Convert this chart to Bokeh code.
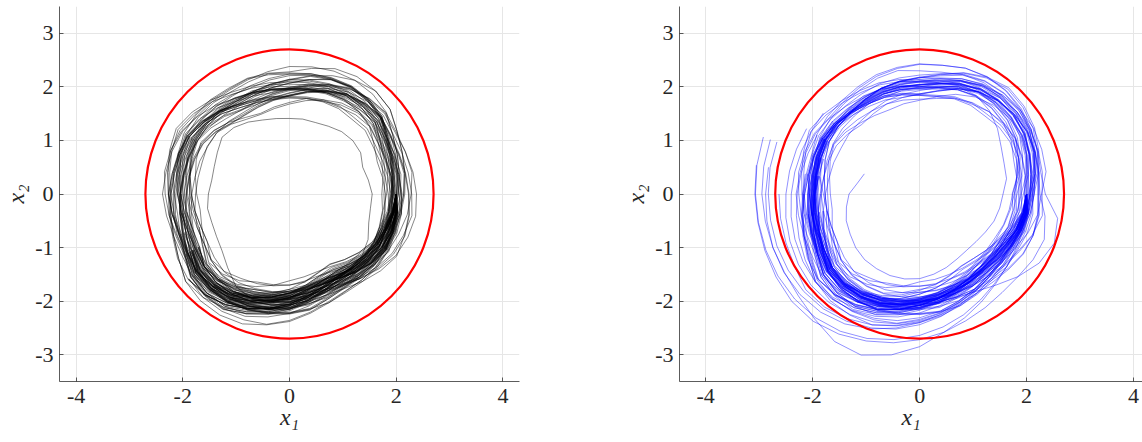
import numpy as np
from bokeh.plotting import figure
from bokeh.layouts import row
from bokeh.models import FixedTicker, Range1d
from bokeh.embed import file_html
from bokeh.resources import INLINE

# ---------------- data ----------------
# Each sample path is stored as radii (hundredths of a unit) read every 10 degrees,
# starting at angle 0 (the point (2, 0)) and turning clockwise.
ANGLE_STEP_DEG = 10
CIRCLE_RADIUS = 2.7
X_TICKS = [-4, -2, 0, 2, 4]
Y_TICKS = [-3, -2, -1, 0, 1, 2, 3]
X_TICK_LABELS = ["-4", "-2", "0", "2", "4"]
Y_TICK_LABELS = ["-3", "-2", "-1", "0", "1", "2", "3"]

# ---- left panel (black paths)
left_01 = [200,203,204,207,206,203,196,194,202,215,225,230,233,233,233,228,227,229,227,223,221,220,215,213,212,215,219,224,228,230,232,231,226,213,206,201,196,193,193,195,194,192,190,189,191,195,198,202,211,217,219,212,209]
left_02 = [200,197,191,187,180,176,173,171,173,178,187,197,207,208,202,188,181,183,187,191,192,190,184,176,172,175,179,179,181,184,192,198,201,195,193,193,194,191,186,187,185,182,175,172,175,185,195,205,214,214,209,196,193,195]
left_03 = [200,204,206,209,202,200,199,204,208,213,217,228,239,246,242,228,220,223,227,231,237,237,231,230,228,230,229,228,238,249,253,251,246,233,225,220,216,212,207,203,201,199,197,201,205,210,215,225,235,241,237,224]
left_04 = [200,198,199,202,195,185,176,174,182,194,205,216,227,228,222,208,199,195,197,202,209,215,216,214,206,202,199,198,200,204,212,218,221,215,209,204,200,197,192,188,180,176,174,179,189,201,212,222,232,233,228,215,207,204,202]
left_05 = [200,202,197,193,184,175,167,170,179,183,186,190,199,205,207,201,200,203,207,212,218,223,218,217,214,211,216,221,225,228,230,228,224,211,204,199,195,192,192,194,192,189,187,186,189,193,196,199,203,208,209,202]
left_06 = [200,205,207,203,194,184,182,187,197,209,219,222,225,225,227,221,213,208,205,202,202,201,195,192,190,193,198,198,200,203,206,205,208,203,202,204,206,210,212,208,200,190,182,179,182,194,205,216,227,234,230,216]
left_07 = [200,196,190,192,191,189,188,186,188,192,196,206,217,224,226,220,212,207,203,200,200,199,199,198,196,199,197,195,197,201,204,209,212,207,207,208,210,213,209,204,195,185,177,181,191,203,214,224,234,235,229,215,207,203]
left_08 = [200,206,208,205,196,194,193,192,194,198,202,213,224,225,220,206,198,200,204,209,216,216,210,202,193,196,201,207,217,227,231,230,233,229,231,235,238,240,236,230,218,206,195,191,193,197,201,205,214,220,221,214]
left_09 = [200,199,194,189,180,171,169,174,184,189,193,204,215,222,217,203,194,190,193,198,205,211,205,196,186,182,180,185,195,206,216,215,210,197,190,191,193,197,199,202,201,192,183,180,182,193,204,215,219,219,214]
left_10 = [200,203,205,208,207,199,191,196,206,218,228,238,248,247,241,227,218,213,216,221,221,219,212,203,193,189,193,199,209,213,215,213,215,210,210,212,208,204,198,201,200,198,197,202,212,223,233,243,247,246,240,226,217]
left_11 = [200,197,192,194,193,191,183,180,182,186,190,194,204,211,213,207,206,209,206,203,202,207,208,207,205,201,198,196,198,201,210,216,219,207,200,195,191,188,189,192,191,189,188,193,202,207,210,213,216,215,210]
left_12 = [200,202,203,206,199,189,180,177,179,190,201,212,223,229,230,223,221,217,213,210,209,207,200,191,182,178,182,188,198,209,212,210,205,199,198,199,201,204,206,209,208,206,198,195,197,201,204,207,210,216,218,212,211]
left_13 = [200,198,192,187,178,169,161,165,175,187,191,194,197,197,192,185,184,180,176,174,174,178,178,170,161,158,162,168,177,187,196,201,203,197,196,197,199,202,203,200,192,183,175,173,176,181,191,202,213,220,221]
left_14 = [200,204,199,194,185,182,181,186,196,201,204,207,210,209,210,204,203,206,210,214,220,225,219,210,200,195,192,197,207,218,228,227,222,209,201,196,192,189,184,181,179,178,183,193,205,216,220,223,222,218,212,198]
left_15 = [200,195,189,191,190,188,187,192,202,207,210,213,216,215,209,195,193,196,200,205,212,218,212,203,193,188,185,183,192,203,213,219,222,217,217,218,214,210,204,199,190,180,171,169,178,190,201,212,223,230]
left_16 = [200,201,201,203,202,200,199,197,199,203,206,209,219,226,228,222,221,223,226,223,222,220,213,204,194,196,201,207,217,228,231,229,224,211,203,197,192,195,197,200,199,197,189,186,188,192,202,213,224,231,233,220,211,206]
left_17 = [200,197,198,201,200,191,182,179,181,185,195,206,217,224,219,205,196,191,187,191,198,204,205,204,202,205,203,201,203,206,208,213,216,211,211,206,202,199,194,190,182,173,171,176,186,198,209,220,231,238,233,219]
left_18 = [200,199,197,194,188,181,176,178,185,194,202,208,200,180,165,158,155,156,152,148,150,156,165,162,155,147,143,141,142,142,146,152,155,154,146,150,155,154,158,170,178,180,178,180,187,195,203,211,219,222,219,209]
left_19 = [200,202,202,199,191,182,174,172,181,193,204,215,226,233,235,222,213,208,204,201,200,205,206,205,203,199,196,194,196,199,201,206,209,204,204,206,209,213,214,210,201,191,182,179,181,185,195,206,217,224,226,220,219,222]
left_20 = [200,196,190,185,183,181,180,185,188,192,195,198,201,207,209,203,202,205,209,207,206,204,197,189,180,182,187,193,203,214,224,223,218,205,197,191,187,190,192,195,194,192,191,196,199,203,206,209,212,211,205,198]
left_21 = [200,203,204,200,192,183,175,173,176,187,198,209,220,227,229,216,207,202,198,195,194,199,200,199,197,200,205,211,214,217,219,217,212,206,206,208,211,208,202,197,188,178,169,174,184,196,207,218,229,229,223,209]
left_22 = [200,198,193,195,194,192,191,195,204,215,219,222,225,224,225,219,218,221,218,215,214,212,205,196,186,181,179,184,194,205,215,221,224,219,212,206,201,197,191,186,184,182,181,186,196,208,219,223,226,225,219]
left_23 = [200,205,200,195,186,177,175,180,190,202,213,224,235,242,237,223,214,209,205,202,201,199,192,184,181,184,189,195,205,216,226,232,235,223,215,209,204,200,194,196,195,193,193,190,192,196,199,202,205,211,213,207]
left_24 = [200,199,195,191,182,172,163,167,177,189,200,211,222,229,231,225,224,220,216,213,212,210,203,201,199,202,207,213,223,227,229,227,222,209,201,195,190,186,180,182,181,179,178,183,193,205,216,227,231,230,224,210]
left_25 = [200,205,208,213,214,213,212,216,218,222,225,237,249,248,241,226,225,229,233,238,237,234,226,225,224,227,232,238,241,244,245,243,237,223,215,209,204,200,194,189,187,185,185,191,202,215,227,238,242,241,235]
left_26 = [200,195,187,180,170,160,152,157,167,170,172,175,187,195,198,184,175,170,174,179,186,192,185,175,165,160,165,171,181,183,184,182,185,180,180,182,185,189,191,186,177,167,158,163,173,185,196,207,210,209,203,189,180]
left_27 = [200,204,207,211,211,210,210,216,226,238,248,258,261,260,254,240,231,226,222,219,218,216,209,200,190,185,190,196,206,217,227,233,236,231,231,233,228,224,218,213,212,210,209,214,224,236,247,250,253,252,246]
left_28 = [200,197,191,185,175,165,156,154,157,162,173,184,195,202,204,198,197,200,204,209,216,222,223,222,220,223,228,226,228,231,233,231,226,213,205,199,194,190,184,179,170,160,151,156,166,178,189,200,211,218,220,214]
left_29 = [200,206,210,215,206,196,187,184,186,190,193,196,199,198,192,178,177,180,184,189,196,202,203,202,200,203,208,214,224,235,245,251,246,233,225,219,214,210,204,199,190,180,179,184,194,206,217,228,239,246,248]
left_30 = [200,196,189,183,182,180,179,184,194,206,217,228,239,246,248,242,233,228,224,221,220,218,211,202,192,187,184,182,184,187,189,187,190,185,185,187,190,194,196,199,198,196,195,200,210,214,217,220,223,222]
left_31 = [200,203,205,208,207,205,204,209,219,223,226,229,232,231,225,211,202,197,193,190,189,187,180,171,169,172,177,183,193,204,214,220,223,218,218,220,223,227,229,232,223,213,204,201,203,207,210,213,216,215,209,195]
left_32 = [200,198,193,189,181,172,164,162,165,170,174,178,182,189,191,185,184,187,191,196,203,209,210,209,207,202,199,197,199,202,204,202,197,192,192,194,197,201,203,206,205,203,202,207,217,221,224,227,230,229,223]
left_33 = [200,207,211,206,197,187,178,175,177,181,192,203,214,221,223,217,216,219,223,228,235,241,234,225,215,210,207,205,207,210,212,210,205,192,184,178,173,177,179,182,181,179,178,183,193,205,216,227,238,245,247]
left_34 = [200,194,186,189,188,186,185,190,200,212,223,234,245,252,254,240,231,226,222,219,218,216,209,200,190,185,182,180,182,185,187,193,196,191,191,193,196,200,202,205,204,202,201,206,208,212,215,218,221,220,214]
left_35 = [200,202,204,207,198,188,179,176,178,182,185,188,191,190,184,178,177,180,184,189,196,202,203,202,200,203,208,214,216,219,221,219,214,201,193,187,182,178,180,183,182,180,179,184,194,206,217,228,231,230,224,210]
left_36 = [200,197,200,204,204,203,203,209,220,224,227,230,233,232,226,212,203,198,194,191,190,188,181,172,170,173,178,184,194,205,215,221,224,219,219,221,224,228,230,225,216,206,197,194,196,200,203,206,209,208]
left_37 = [200,205,199,194,185,175,166,163,173,185,196,207,218,225,227,221,220,223,227,232,239,245,238,229,219,214,211,209,211,214,216,214,209,196,188,182,177,181,183,186,185,183,182,187,197,209,220,231,242,241,235]
left_38 = [200,199,194,190,189,187,186,191,201,213,216,219,222,221,215,201,192,187,183,180,179,177,178,177,175,178,183,189,199,210,220,226,229,224,224,226,229,233,227,222,213,203,194,191,193,197,200,203,206,205,199]
left_39 = [200,204,206,209,200,190,181,178,180,184,187,190,201,208,210,204,203,206,210,215,222,228,229,228,226,229,226,224,226,229,231,229,224,211,203,197,192,188,182,185,184,182,181,186,196,208,219,230,233,232,226]
left_40 = [200,195,188,182,172,170,169,174,184,196,207,218,229,236,238,232,231,234,238,235,234,232,225,216,206,201,198,196,198,201,203,201,196,183,175,177,180,182,185,189,188,186,185,190,200,212,223,234,245,244,238]

# ---- right panel (blue paths)
right_01 = [200,204,201,195,194,192,196,200,207,212,220,227,233,234,230,221,215,211,209,210,214,218,217,215,216,219,220,222,228,238,244,246,245,241,234,226,225,238,248,245,240,240,245,252,262,272,282,292,302,310,312,310,308,307,308,310]
right_02 = [200,199,196,190,187,186,189,193,199,205,213,221,226,228,226,219,214,212,209,208,210,213,212,209,208,209,210,211,216,226,233,236,236,233,226,219,214,212,210,209,212,218,228,240,252,264,276,287,296,302,305,306,306,306,307,309,311]
right_03 = [200,201,197,190,186,184,186,190,196,202,210,217,221,222,219,212,207,205,202,202,205,208,207,205,205,207,208,209,214,224,231,234,234,231,224,217,210,205,200,198,198,202,210,220,232,244,256,266,274,280,283,284,284,283,283,284,284]
right_04 = [200,198,194,187,184,182,184,187,192,198,205,212,216,217,214,207,202,200,198,198,201,204,203,201,201,203,204,205,210,220,227,230,230,227,220,213,208,206,205,207,212,220,232,246,262,285,305,320,318,305,296,292,292,293,295,296,297]
right_05 = [200,202,199,193,190,188,190,193,198,203,210,217,221,222,219,211,206,204,201,200,202,205,204,202,203,205,207,209,215,225,233,237,238,236,230,224,221,224,226,224,218,214,214,218,228,240,254,268,280,288,292,293,292,290,288,287]
right_06 = [200,199,195,189,186,185,188,192,198,204,211,218,222,223,220,212,207,205,203,203,206,210,210,208,208,210,212,214,220,229,236,239,238,234,227,220,214,210,205,202,200,202,208,216,226,236,246,254,260,264,265,262,258,254,250,247,245,244]
right_07 = [200,197,192,186,183,182,184,188,193,199,207,215,219,220,217,209,204,202,199,198,200,203,202,200,200,202,203,204,209,219,226,229,229,226,219,212,206,202,198,196,196,199,205,213,222,231,240,247,252,255,255,252,248,244,240,237,235,234,235]
right_08 = [200,203,202,198,196,195,198,202,207,212,218,224,227,227,223,215,209,206,203,202,204,207,206,204,204,206,208,211,218,229,237,241,242,240,235,230,235,262,268,258,240,222,210,205,205,208,214,220,224,225,222,214,208,205,202,201,202,205]
right_09 = [200,199,194,186,182,180,182,185,190,196,203,210,215,218,216,206,200,196,193,193,196,199,198,196,196,198,198,198,203,213,220,223,223,220,213,206,203,201,197,192,188,186,188,191,196,202,210,218,224,228,227,218,212,208,205,204,206,209]
right_10 = [200,201,197,191,189,188,190,194,199,205,212,219,224,227,225,215,208,203,199,198,200,203,202,199,198,199,198,197,201,210,217,220,220,217,210,203,199,197,193,188,185,184,187,191,197,204,213,222,229,233,231,221,214,209,205,203,204,206,208]
right_11 = [200,198,192,184,180,178,180,183,188,193,200,207,212,215,213,203,197,193,190,190,193,196,195,193,193,195,195,195,199,207,212,213,210,203,193,184,177,172,168,166,167,170,175,181,188,195,203,211,217,220,218,209,203,199,196,195,196,198]
right_12 = [200,202,198,192,189,187,189,192,197,202,209,216,221,224,222,212,206,202,199,199,202,205,204,202,202,204,204,204,209,219,226,229,229,226,219,212,208,206,202,197,194,193,195,199,205,211,219,227,233,236,234,224,216,211,207,205,205,206]
right_13 = [200,198,193,186,183,181,183,186,191,196,203,210,215,218,216,206,200,197,194,194,197,200,199,197,197,199,199,199,204,214,221,224,224,221,214,207,202,198,193,188,184,183,185,189,195,201,208,215,220,222,219,209,203,199,196,195,197,199,201]
right_14 = [200,199,194,187,183,181,183,186,190,195,201,207,211,213,210,200,193,188,184,182,184,186,184,181,179,179,178,177,181,190,197,201,203,202,197,191,188,186,183,180,178,178,181,185,191,197,204,211,216,219,217,208,202,198,196,196,198]
right_15 = [200,201,198,193,191,190,193,197,202,208,215,222,226,227,224,214,207,203,200,200,203,207,207,206,207,210,213,217,224,236,243,245,243,237,228,219,212,207,201,195,190,188,189,192,197,203,210,217,222,224,221,211,205,201,198,197,198,200]
right_16 = [200,200,196,190,187,186,188,191,196,201,207,213,217,219,216,206,200,197,195,196,200,204,204,202,202,203,203,203,208,218,225,228,228,225,218,211,206,204,200,196,193,192,194,197,202,208,216,224,230,233,231,222,216,212,209,208,209,211,212]
right_17 = [200,197,191,183,179,177,179,182,187,193,200,208,214,217,215,206,201,198,196,197,200,203,202,199,198,199,198,197,202,212,219,222,222,219,212,205,200,197,192,187,183,182,184,188,194,201,209,217,223,226,224,214,207,202,198,196,196]
right_18 = [200,200,197,191,188,186,188,191,196,202,209,216,220,222,219,209,203,200,197,197,200,203,202,200,200,202,203,204,209,218,225,228,228,225,218,211,206,203,199,195,193,194,198,204,212,222,233,243,251,256,255,247,240,234,229,225,222,221]
right_19 = [200,198,194,188,185,183,185,188,193,198,205,212,215,216,213,206,201,199,196,196,199,202,201,199,199,201,201,201,205,213,212,203,190,176,168,165,156,152,148,142,138,137,140,146,152,158,161,162,161,160,156,150,146,139,132,118,110]
right_20 = [200,197,188,178,177,178,176,175,176,178,187,197,198,197,192,184,181,173,172,175,181,187,189,190,193,198,201,204,212,225,235,235,231,224,213,202,190,186,178,168,169,171,177,184,193,202,213,224,233,240,235,221,211,203,196,192,191]
right_21 = [200,204,203,200,201,197,196,196,198,207,218,229,231,230,225,219,217,217,218,215,215,222,225,227,231,237,240,243,244,250,253,252,248,241,230,219,207,203,194,183,176,177,183,190,199,208,219,230,231,230,224,210,200,192,191,194]
right_22 = [200,198,197,194,195,190,188,195,204,213,223,233,241,247,241,227,217,209,202,198,197,196,198,200,204,210,214,210,211,217,220,227,231,232,229,226,222,226,225,215,208,203,209,216,225,234,245,250,253,254,250,238,230,224,219,217]
right_23 = [200,202,194,183,176,177,183,190,199,201,204,207,208,207,208,202,200,200,201,205,212,212,207,201,197,195,191,187,195,209,220,219,215,208,197,186,174,170,167,163,163,165,171,178,187,196,207,218,220,219,213,199,196,196,197,201]
right_24 = [200,203,202,199,199,200,198,197,198,199,202,205,213,220,222,216,214,214,208,204,203,202,197,199,203,209,213,217,226,240,250,256,252,245,234,223,211,207,198,187,180,181,187,194,203,212,216,219,220,219,213,207,205,205,206,213]
right_25 = [200,196,187,183,184,186,192,199,201,202,205,208,209,208,202,195,193,193,194,198,205,204,199,193,189,187,183,186,195,209,220,227,231,232,229,219,207,203,194,183,176,170,176,183,192,201,212,223,232,239,234,220,210,202,195,191]
right_26 = [200,201,199,196,197,199,205,204,205,206,209,212,213,212,213,207,205,205,206,210,210,209,204,198,194,192,188,184,185,198,209,216,220,221,218,215,211,215,214,211,212,207,205,204,205,206,209,212,213,212,213,207,205,205,206]
right_27 = [200,205,205,204,207,210,216,222,223,224,227,239,249,248,241,226,224,225,226,230,229,227,221,223,228,234,238,242,244,250,252,251,246,238,227,216,204,200,191,180,180,182,189,197,207,217,229,240,242,241,235,221,211,203,196,192]
right_28 = [200,195,184,171,163,157,156,163,172,172,174,177,187,195,198,184,174,166,167,171,178,185,180,173,169,167,171,175,184,189,191,190,194,195,192,189,185,189,188,177,170,164,162,169,178,187,198,209,210,209,203,189,179,176,180,190]
right_29 = [200,204,204,202,204,207,214,222,231,240,250,260,261,260,254,240,230,222,215,211,210,209,204,198,194,192,196,200,209,223,234,241,245,246,243,240,228,224,215,204,205,207,213,220,229,238,249,260,269,276,278,270,266,264,263]
right_30 = [200,197,188,176,168,162,160,160,162,164,175,186,195,202,204,198,196,196,197,201,208,215,218,220,224,230,234,230,231,237,240,239,235,228,217,206,194,190,181,170,163,157,155,162,171,180,191,202,211,218,220,214,212,212]
right_31 = [200,206,207,206,199,193,191,190,191,192,195,198,199,198,192,178,176,176,177,181,188,195,198,200,204,210,214,218,227,241,252,259,255,248,237,226,214,210,201,190,183,177,183,190,199,208,219,230,239,246,248,236,228,222,217]
right_32 = [200,196,186,174,175,177,183,190,199,208,219,230,239,246,248,242,232,224,217,213,212,211,206,200,196,194,190,186,187,193,196,195,199,200,197,194,190,194,193,190,191,193,199,206,215,216,219,222,223,222,216,202,192,184]
right_33 = [200,203,202,199,200,202,208,215,224,225,228,231,232,231,225,211,201,193,186,182,181,180,175,169,173,179,183,187,196,210,221,228,232,233,230,227,223,227,226,223,216,210,208,207,208,209,212,215,216,215,209,195,185,177]
right_34 = [200,198,190,180,174,169,168,168,170,172,176,180,182,189,191,185,183,183,184,188,195,202,205,207,211,209,205,201,202,208,211,210,206,207,204,201,197,201,200,197,198,200,206,213,222,223,226,229,230,229,223,209,199,191]
right_35 = [200,207,208,197,190,184,182,181,182,183,194,205,214,221,223,217,215,215,216,220,227,234,229,223,219,217,213,209,210,216,219,218,214,207,196,185,173,177,176,173,174,176,182,189,198,207,218,229,238,245,247,234,225,218]
right_36 = [200,194,183,180,181,183,189,196,205,214,225,236,245,252,254,240,230,222,215,211,210,209,204,198,194,192,188,184,185,191,194,201,205,206,203,200,196,200,199,196,197,199,205,212,213,214,217,220,221,220,214,200,190,182]
right_37 = [200,202,201,198,191,185,183,182,183,184,187,190,191,190,184,178,176,176,177,181,188,195,198,200,204,210,214,218,219,225,228,227,223,216,205,194,182,178,177,174,175,177,183,190,199,208,219,230,231,230,224,210,200,192,185]
right_38 = [200,205,196,185,178,172,170,169,178,187,198,209,218,225,227,221,219,219,220,224,231,238,233,227,223,221,217,213,214,220,223,222,218,211,200,189,177,181,180,177,178,180,186,193,202,211,222,233,242,241,235,221,211,203]
right_39 = [200,199,191,181,182,184,190,197,206,215,218,221,222,221,215,201,191,183,176,172,171,170,173,175,179,185,189,193,202,216,227,234,238,239,236,233,229,233,224,213,206,200,198,197,198,199,202,205,206,205,199,193,191,191]
right_40 = [200,195,185,173,165,167,173,180,189,198,209,220,229,236,238,232,230,230,231,227,226,225,220,214,210,208,204,200,201,207,210,209,205,198,187,184,180,184,183,180,181,183,189,196,205,214,225,236,245,244,238,224,214,206,199]

LEFT_RUNS = [left_01, left_02, left_03, left_04, left_05, left_06, left_07, left_08, left_09, left_10,
             left_11, left_12, left_13, left_14, left_15, left_16, left_17, left_18, left_19, left_20,
             left_21, left_22, left_23, left_24, left_25, left_26, left_27, left_28, left_29, left_30,
             left_31, left_32, left_33, left_34, left_35, left_36, left_37, left_38, left_39, left_40]
RIGHT_RUNS = [right_01, right_02, right_03, right_04, right_05, right_06, right_07, right_08, right_09, right_10,
              right_11, right_12, right_13, right_14, right_15, right_16, right_17, right_18, right_19, right_20,
              right_21, right_22, right_23, right_24, right_25, right_26, right_27, right_28, right_29, right_30,
              right_31, right_32, right_33, right_34, right_35, right_36, right_37, right_38, right_39, right_40]


def to_xy(runs):
    xs, ys = [], []
    for r in runs:
        rr = np.asarray(r, dtype=float) / 100.0
        th = np.deg2rad(-ANGLE_STEP_DEG * np.arange(len(rr)))
        xs.append(list(rr * np.cos(th)))
        ys.append(list(rr * np.sin(th)))
    return xs, ys


FONT = "'Liberation Serif', serif"
TXT = "#262626"


def make_panel(width, border_left, border_right, x_range, runs, color, alpha):
    p = figure(width=width, height=442, x_range=Range1d(*x_range), y_range=Range1d(-3.5, 3.5),
               output_backend="svg", toolbar_location=None,
               min_border_left=border_left, min_border_right=border_right,
               min_border_top=6, min_border_bottom=61)
    p.outline_line_color = None
    p.background_fill_color = "white"
    p.border_fill_color = "white"
    p.xaxis.ticker = FixedTicker(ticks=X_TICKS)
    p.yaxis.ticker = FixedTicker(ticks=Y_TICKS)
    p.xgrid.ticker = FixedTicker(ticks=X_TICKS)
    p.ygrid.ticker = FixedTicker(ticks=Y_TICKS)
    p.xaxis.major_label_overrides = dict(zip(X_TICKS, X_TICK_LABELS))
    p.yaxis.major_label_overrides = dict(zip(Y_TICKS, Y_TICK_LABELS))
    for g in (p.xgrid, p.ygrid):
        g.grid_line_color = "#e6e6e6"
        g.grid_line_width = 1
    for ax in (p.xaxis, p.yaxis):
        ax.axis_line_color = TXT
        ax.axis_line_alpha = 0.75
        ax.major_tick_line_color = TXT
        ax.major_tick_line_alpha = 0.75
        ax.major_tick_in = 4
        ax.major_tick_out = 0
        ax.minor_tick_line_color = None
        ax.major_label_text_font = FONT
        ax.major_label_text_font_size = "22px"
        ax.major_label_text_color = TXT
        ax.axis_label_text_font = FONT
        ax.axis_label_text_font_size = "24px"
        ax.axis_label_text_font_style = "italic"
        ax.axis_label_text_color = TXT
    p.xaxis.axis_label = "x\u2081"
    p.yaxis.axis_label = "x\u2082"
    p.xaxis.major_label_standoff = 7
    p.yaxis.major_label_standoff = 6
    p.xaxis.axis_label_standoff = -2
    p.yaxis.axis_label_standoff = 3

    xs, ys = to_xy(runs)
    p.multi_line(xs=xs, ys=ys, line_color=color, line_alpha=alpha, line_width=0.8)
    p.ellipse(x=[0], y=[0], width=2 * CIRCLE_RADIUS, height=2 * CIRCLE_RADIUS,
              fill_color=None, line_color="#ff0000", line_width=2.2)
    return p


p1 = make_panel(620, 55, 101, (-4.31, 4.31), LEFT_RUNS, "#000000", 0.6)
p2 = make_panel(522, 58, 0, (-4.49, 4.167), RIGHT_RUNS, "#0000ff", 0.55)

layout = row(p1, p2)
open("out.html", "w").write(file_html(layout, INLINE))
